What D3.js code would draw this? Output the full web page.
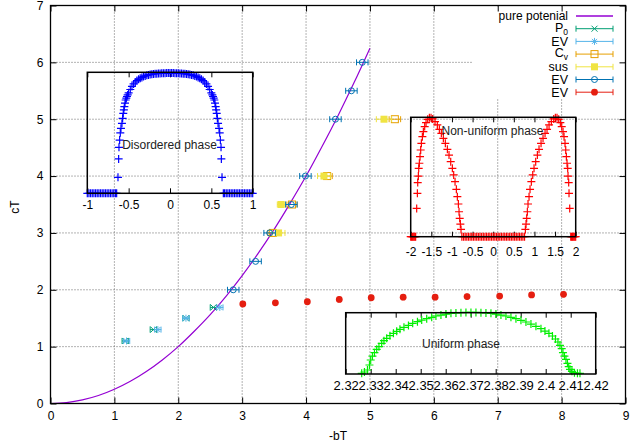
<!DOCTYPE html>
<html>
<head>
<meta charset="utf-8">
<script src="https://cdn.jsdelivr.net/npm/d3@7"></script>
<style>
body { margin: 0; background: #fff; }
</style>
</head>
<body>
<div id="chart"></div>
<script>
const width = 632;
const height = 446;

// pure potential curve
const curveX = [0, 0.25, 0.5, 0.75, 1, 1.25, 1.5, 1.75, 2, 2.25, 2.5, 2.75, 3, 3.25, 3.5, 3.75, 4, 4.25, 4.5, 4.75, 5];
const curveY = [0, 0.016, 0.0625, 0.14, 0.25, 0.39, 0.5625, 0.766, 1, 1.27, 1.5625, 1.89, 2.25, 2.64, 3.0625, 3.52, 4, 4.52, 5.0625, 5.64, 6.25];

// measured points (x, y, x-error)
const p0X = [1.17, 1.61, 2.12, 2.55];
const p0Y = [1.10, 1.30, 1.50, 1.69];
const p0Err = [0.05, 0.05, 0.05, 0.05];

const ev1X = [1.19, 1.68, 2.12, 2.65];
const ev1Y = [1.10, 1.30, 1.50, 1.69];
const ev1Err = [0.05, 0.05, 0.05, 0.05];

const cvX = [3.48, 3.78, 4.33, 5.39];
const cvY = [3.0, 3.5, 4.0, 5.0];
const cvErr = [0.08, 0.08, 0.08, 0.09];

const susX = [3.57, 3.61, 4.28, 5.22];
const susY = [3.0, 3.5, 4.0, 5.0];
const susErr = [0.1, 0.06, 0.1, 0.12];

const ev2X = [2.86, 3.21, 3.43, 3.77, 3.99, 4.46, 4.71, 4.88];
const ev2Y = [2.0, 2.5, 3.0, 3.5, 4.0, 5.0, 5.5, 6.0];
const ev2Err = [0.09, 0.09, 0.09, 0.09, 0.09, 0.09, 0.09, 0.09];

const ev3X = [3.01, 3.52, 4.02, 4.52, 5.02, 5.52, 6.02, 6.52, 7.03, 7.53, 8.03];
const ev3Y = [1.75, 1.77, 1.79, 1.83, 1.86, 1.87, 1.87, 1.88, 1.89, 1.91, 1.92];
const ev3Err = [0.01, 0.01, 0.01, 0.01, 0.01, 0.01, 0.01, 0.01, 0.01, 0.01, 0.01];

// inset: disordered phase
const disX = [-1, -0.98, -0.96, -0.94, -0.92, -0.9, -0.88, -0.86, -0.84, -0.82, -0.8, -0.78, -0.76, -0.74, -0.72, -0.7, -0.68, -0.66, -0.645,
  -0.629, -0.621, -0.617, -0.609, -0.601, -0.593, -0.581, -0.573, -0.565, -0.558, -0.552, -0.544, -0.536, -0.528, -0.52, -0.512,
  -0.5, -0.48, -0.46, -0.44, -0.42, -0.4, -0.38, -0.36, -0.34, -0.32, -0.3, -0.28, -0.26, -0.24, -0.22, -0.2, -0.18, -0.16, -0.14, -0.12, -0.1, -0.08, -0.06, -0.04, -0.02,
  0,
  0.02, 0.04, 0.06, 0.08, 0.1, 0.12, 0.14, 0.16, 0.18, 0.2, 0.22, 0.24, 0.26, 0.28, 0.3, 0.32, 0.34, 0.36, 0.38, 0.4, 0.42, 0.44, 0.46, 0.48, 0.5,
  0.512, 0.52, 0.528, 0.536, 0.544, 0.552, 0.558, 0.565, 0.573, 0.581, 0.593, 0.601, 0.609, 0.617, 0.621, 0.629,
  0.645, 0.66, 0.68, 0.7, 0.72, 0.74, 0.76, 0.78, 0.8, 0.82, 0.84, 0.86, 0.88, 0.9, 0.92, 0.94, 0.96, 0.98, 1];
const disY = [0, 0, 0, 0, 0, 0, 0, 0, 0, 0, 0, 0, 0, 0, 0, 0, 0, 0, 0,
  0.132, 0.284, 0.38, 0.44, 0.5, 0.537, 0.578, 0.62, 0.66, 0.69, 0.716, 0.745, 0.771, 0.786, 0.8, 0.813,
  0.83, 0.858, 0.883, 0.904, 0.92, 0.932, 0.942, 0.951, 0.958, 0.965, 0.97, 0.975, 0.978, 0.981, 0.984, 0.986, 0.988, 0.989, 0.99, 0.991, 0.992, 0.993, 0.993, 0.994, 0.994,
  0.994,
  0.994, 0.994, 0.993, 0.993, 0.992, 0.991, 0.99, 0.989, 0.988, 0.986, 0.984, 0.981, 0.978, 0.975, 0.97, 0.965, 0.958, 0.951, 0.942, 0.932, 0.92, 0.904, 0.883, 0.858, 0.83,
  0.813, 0.8, 0.786, 0.771, 0.745, 0.716, 0.69, 0.66, 0.62, 0.578, 0.537, 0.5, 0.44, 0.38, 0.284, 0.132,
  0, 0, 0, 0, 0, 0, 0, 0, 0, 0, 0, 0, 0, 0, 0, 0, 0, 0, 0];
const disTicks = [-1, -0.5, 0, 0.5, 1];
const disLabels = ["-1", "-0.5", "0", "0.5", "1"];

// inset: non-uniform phase
const nonX = [-2, -1.98, -1.96, -1.94, -1.92, -1.9, -1.88,
  -1.855, -1.838, -1.83, -1.814, -1.806, -1.79, -1.774, -1.758, -1.741, -1.717, -1.693, -1.661, -1.628, -1.588, -1.547, -1.507, -1.467,
  -1.41, -1.354, -1.305, -1.257, -1.208, -1.16, -1.111, -1.071, -1.03, -0.99, -0.958, -0.925, -0.893, -0.869, -0.844, -0.828, -0.812, -0.796, -0.78,
  -0.76, -0.72, -0.68, -0.64, -0.6, -0.56, -0.52, -0.48, -0.44, -0.4, -0.36, -0.32, -0.28, -0.24, -0.2, -0.16, -0.12, -0.08, -0.04, 0,
  0.04, 0.08, 0.12, 0.16, 0.2, 0.24, 0.28, 0.32, 0.36, 0.4, 0.44, 0.48, 0.52, 0.56, 0.6, 0.64, 0.68, 0.72, 0.76,
  0.78, 0.796, 0.812, 0.828, 0.844, 0.869, 0.893, 0.925, 0.958, 0.99, 1.03, 1.071, 1.111, 1.16, 1.208, 1.257, 1.305, 1.354, 1.41,
  1.467, 1.507, 1.547, 1.588, 1.628, 1.661, 1.693, 1.717, 1.741, 1.758, 1.774, 1.79, 1.806, 1.814, 1.83, 1.838, 1.855,
  1.88, 1.9, 1.92, 1.94, 1.96, 1.98, 2];
const nonY = [0, 0, 0, 0, 0, 0, 0,
  0.237, 0.363, 0.453, 0.508, 0.573, 0.615, 0.67, 0.726, 0.782, 0.838, 0.88, 0.922, 0.955, 0.983, 0.997, 0.997, 0.986,
  0.964, 0.936, 0.899, 0.866, 0.824, 0.782, 0.732, 0.684, 0.628, 0.573, 0.517, 0.461, 0.397, 0.335, 0.274, 0.209, 0.154, 0.106, 0.061,
  0, 0, 0, 0, 0, 0, 0, 0, 0, 0, 0, 0, 0, 0, 0, 0, 0, 0, 0, 0,
  0, 0, 0, 0, 0, 0, 0, 0, 0, 0, 0, 0, 0, 0, 0, 0, 0, 0, 0,
  0.061, 0.106, 0.154, 0.209, 0.274, 0.335, 0.397, 0.461, 0.517, 0.573, 0.628, 0.684, 0.732, 0.782, 0.824, 0.866, 0.899, 0.936, 0.964,
  0.986, 0.997, 0.997, 0.983, 0.955, 0.922, 0.88, 0.838, 0.782, 0.726, 0.67, 0.615, 0.573, 0.508, 0.453, 0.363, 0.237,
  0, 0, 0, 0, 0, 0, 0];
const nonTicks = [-2, -1.5, -1, -0.5, 0, 0.5, 1, 1.5, 2];
const nonLabels = ["-2", "-1.5", "-1", "-0.5", "0", "0.5", "1", "1.5", "2"];

// inset: uniform phase
const uniX = [2.3264, 2.3275, 2.3287, 2.3295, 2.33, 2.3307, 2.3315, 2.3324, 2.3333, 2.3344, 2.3353, 2.3364, 2.3377, 2.3391, 2.3404, 2.3417,
  2.3433, 2.3451, 2.3468, 2.3487, 2.3504, 2.3524, 2.3544, 2.3561, 2.3581, 2.3601, 2.3621, 2.3641, 2.3661, 2.3681, 2.3701, 2.3721,
  2.3741, 2.3761, 2.3781, 2.3801, 2.3821, 2.3841, 2.3861, 2.3881, 2.3901, 2.3921, 2.3941, 2.3961, 2.3981, 2.3997, 2.4013, 2.4027,
  2.4039, 2.4049, 2.4057, 2.4064, 2.4069, 2.4075, 2.4081, 2.4087, 2.4092, 2.4097, 2.4105, 2.4115, 2.4127, 2.4137];
const uniY = [0.011, 0.033, 0.065, 0.147, 0.228, 0.293, 0.348, 0.402, 0.446, 0.5, 0.543, 0.582, 0.625, 0.663, 0.696, 0.728,
  0.761, 0.793, 0.826, 0.853, 0.88, 0.902, 0.924, 0.946, 0.962, 0.978, 0.989, 0.995, 1.0, 1.005, 1.005, 1.005,
  1.0, 0.995, 0.989, 0.978, 0.962, 0.946, 0.924, 0.902, 0.875, 0.848, 0.815, 0.777, 0.739, 0.701, 0.663, 0.62,
  0.571, 0.522, 0.467, 0.413, 0.348, 0.293, 0.239, 0.174, 0.12, 0.076, 0.043, 0.022, 0.011, 0.011];
const uniTicks = [2.32, 2.33, 2.34, 2.35, 2.36, 2.37, 2.38, 2.39, 2.4, 2.41, 2.42];
const uniLabels = ["2.32", "2.33", "2.34", "2.35", "2.36", "2.37", "2.38", "2.39", "2.4", "2.41", "2.42"];

const fontFamily = "'Liberation Sans', Arial, Helvetica, sans-serif";

const svg = d3.select("#chart").append("svg")
    .attr("width", width).attr("height", height)
    .style("font-family", fontFamily).style("font-size", "12px");
svg.append("rect").attr("width", width).attr("height", height).attr("fill", "#fff");

const x = d3.scaleLinear().domain([0, 9]).range([50.5, 625.5]);
const y = d3.scaleLinear().domain([0, 7]).range([403.5, 5.5]);

// dotted grid
const grid = svg.append("g").attr("stroke", "#666").attr("stroke-width", 1).attr("stroke-dasharray", "1,2");
grid.selectAll(".gx").data(x.ticks(9).slice(1, -1)).enter().append("line")
    .attr("x1", d => x(d)).attr("x2", d => x(d)).attr("y1", y(0)).attr("y2", y(7));
grid.selectAll(".gy").data(y.ticks(7).slice(1, -1)).enter().append("line")
    .attr("y1", d => y(d)).attr("y2", d => y(d)).attr("x1", x(0)).attr("x2", x(9));

// pure potential
const line = d3.line().x((d, i) => x(curveX[i])).y(d => y(d)).curve(d3.curveCatmullRom);
svg.append("path").attr("d", line(curveY)).attr("fill", "none")
    .attr("stroke", "#9400d3").attr("stroke-width", 1.2);

function marker(g, type, color) {
    if (type === "cross") {
        g.append("path").attr("d", "M-3,-3L3,3M-3,3L3,-3").attr("stroke", color).attr("fill", "none");
    } else if (type === "star") {
        g.append("path").attr("d", "M-3.5,0H3.5M0,-3.5V3.5M-2.5,-2.5L2.5,2.5M-2.5,2.5L2.5,-2.5").attr("stroke", color).attr("fill", "none");
    } else if (type === "square") {
        g.append("rect").attr("x", -3.5).attr("y", -3.5).attr("width", 7).attr("height", 7).attr("stroke", color).attr("fill", "none");
    } else if (type === "fsquare") {
        g.append("rect").attr("x", -3.5).attr("y", -3.5).attr("width", 7).attr("height", 7).attr("fill", color);
    } else if (type === "circle") {
        g.append("circle").attr("r", 3).attr("stroke", color).attr("fill", "none");
    } else if (type === "dot") {
        g.append("circle").attr("r", 3.4).attr("fill", color);
    }
}

function drawSeries(xs, ys, errs, color, type) {
    const g = svg.append("g");
    xs.forEach((xv, i) => {
        const cy = y(ys[i]);
        const xa = x(xv - errs[i]);
        const xb = x(xv + errs[i]);
        g.append("path")
            .attr("d", `M${xa},${cy}H${xb}M${xa},${cy - 3}V${cy + 3}M${xb},${cy - 3}V${cy + 3}`)
            .attr("stroke", color).attr("fill", "none");
        const m = g.append("g").attr("transform", `translate(${x(xv)},${cy})`);
        marker(m, type, color);
    });
}

const series = [
    { name: "P", sub: "0", xs: p0X, ys: p0Y, err: p0Err, color: "#009e73", type: "cross" },
    { name: "EV", xs: ev1X, ys: ev1Y, err: ev1Err, color: "#56b4e9", type: "star" },
    { name: "C", sub: "v", xs: cvX, ys: cvY, err: cvErr, color: "#e69f00", type: "square" },
    { name: "sus", xs: susX, ys: susY, err: susErr, color: "#f0e442", type: "fsquare" },
    { name: "EV", xs: ev2X, ys: ev2Y, err: ev2Err, color: "#0072b2", type: "circle" },
    { name: "EV", xs: ev3X, ys: ev3Y, err: ev3Err, color: "#e51e10", type: "dot" }
];
series.forEach(s => drawSeries(s.xs, s.ys, s.err, s.color, s.type));

// legend
const legend = svg.append("g");
legend.append("rect").attr("x", 472).attr("y", y(7) + 1).attr("width", x(9) - 473).attr("height", 92).attr("fill", "#fff");
const rowY = i => 16 + i * 12.7;
const sampleA = 576, sampleB = 613;
legend.append("text").attr("x", 568).attr("y", rowY(0)).attr("dy", "0.35em")
    .attr("text-anchor", "end").text("pure potenial");
legend.append("line").attr("x1", sampleA).attr("x2", sampleB).attr("y1", rowY(0)).attr("y2", rowY(0))
    .attr("stroke", "#9400d3").attr("stroke-width", 1.5);
series.forEach((s, i) => {
    const ry = rowY(i + 1);
    const t = legend.append("text").attr("x", 568).attr("y", ry).attr("dy", s.sub ? "0.25em" : "0.36em")
        .attr("text-anchor", "end").style("font-size", "12.5px");
    t.append("tspan").text(s.name);
    if (s.sub) t.append("tspan").attr("dy", 3).style("font-size", "8.5px").text(s.sub);
    legend.append("path")
        .attr("d", `M${sampleA},${ry}H${sampleB}M${sampleA},${ry - 3}V${ry + 3}M${sampleB},${ry - 3}V${ry + 3}`)
        .attr("stroke", s.color).attr("fill", "none");
    const m = legend.append("g").attr("transform", `translate(${(sampleA + sampleB) / 2},${ry})`);
    marker(m, s.type, s.color);
});

// insets
const plus = "M-4,0H4M0,-4V4";
function drawInset(o) {
    const sx = d3.scaleLinear().domain(o.xDomain).range([o.left, o.right]);
    const sy = d3.scaleLinear().domain([0, 1]).range([o.bottom, o.top]);
    const g = svg.append("g");

    const bottomAxis = g.append("g").attr("transform", `translate(0,${o.bottom})`)
        .call(d3.axisBottom(sx).tickValues(o.ticks).tickFormat((d, i) => o.labels[i])
            .tickSize(-5).tickSizeOuter(0).tickPadding(o.pad));
    bottomAxis.select(".domain").remove();
    bottomAxis.attr("font-size", o.fontSize).attr("font-family", fontFamily);
    const topAxis = g.append("g").attr("transform", `translate(0,${o.top})`)
        .call(d3.axisTop(sx).tickValues(o.ticks).tickFormat("").tickSize(-5).tickSizeOuter(0));
    topAxis.select(".domain").remove();

    g.append("g").selectAll("path").data(o.xs).enter().append("path")
        .attr("transform", (d, i) => `translate(${sx(d)},${sy(o.ys[i])})`)
        .attr("d", plus).attr("stroke", o.color).attr("stroke-width", 1.2).attr("fill", "none");

    g.append("rect").attr("x", o.left).attr("y", o.top)
        .attr("width", o.right - o.left).attr("height", o.bottom - o.top)
        .attr("fill", "none").attr("stroke", "#000").attr("stroke-width", 1.5);

    g.append("text").attr("x", o.labelX).attr("y", o.labelY).attr("dy", "0.35em")
        .attr("text-anchor", "middle").attr("fill", "#222").text(o.label);
}

drawInset({ left: 87.3, right: 252.7, top: 72.3, bottom: 193.3, xDomain: [-1, 1],
    ticks: disTicks, labels: disLabels, pad: 7, fontSize: 12, xs: disX, ys: disY, color: "#0000ff",
    label: "Disordered phase", labelX: 169.5, labelY: 145 });
drawInset({ left: 410.7, right: 575.7, top: 117.3, bottom: 236.7, xDomain: [-2, 2],
    ticks: nonTicks, labels: nonLabels, pad: 11, fontSize: 12, xs: nonX, ys: nonY, color: "#ff0000",
    label: "Non-uniform phase", labelX: 492.5, labelY: 130.7 });
drawInset({ left: 345.7, right: 595.7, top: 312.7, bottom: 374, xDomain: [2.32, 2.42],
    ticks: uniTicks, labels: uniLabels, pad: 7, fontSize: 13, xs: uniX, ys: uniY, color: "#00ee00",
    label: "Uniform phase", labelX: 461, labelY: 343.3 });

// main axes
const axisStyle = g => {
    g.select(".domain").remove();
    g.attr("font-size", 12).attr("font-family", fontFamily);
};
svg.append("g").attr("transform", `translate(0,${y(0)})`)
    .call(d3.axisBottom(x).ticks(9).tickSize(-6).tickSizeOuter(0).tickPadding(8)).call(axisStyle);
svg.append("g").attr("transform", `translate(${x(0)},0)`)
    .call(d3.axisLeft(y).ticks(7).tickSize(-6).tickSizeOuter(0).tickPadding(7)).call(axisStyle);
svg.append("g").attr("transform", `translate(0,${y(7)})`)
    .call(d3.axisTop(x).ticks(9).tickSize(-6).tickSizeOuter(0).tickFormat("")).call(axisStyle);
svg.append("g").attr("transform", `translate(${x(9)},0)`)
    .call(d3.axisRight(y).ticks(7).tickSize(-6).tickSizeOuter(0).tickFormat("")).call(axisStyle);

svg.append("rect").attr("x", x(0)).attr("y", y(7))
    .attr("width", x(9) - x(0)).attr("height", y(0) - y(7))
    .attr("fill", "none").attr("stroke", "#000").attr("stroke-width", 1.3);

// axis titles
svg.append("text").attr("x", (x(0) + x(9)) / 2).attr("y", 436).attr("dy", "0.35em")
    .attr("text-anchor", "middle").text("-bT");
svg.append("text").attr("transform", "translate(15,207) rotate(-90)").attr("dy", "0.35em")
    .attr("text-anchor", "middle").text("cT");
</script>
</body>
</html>
